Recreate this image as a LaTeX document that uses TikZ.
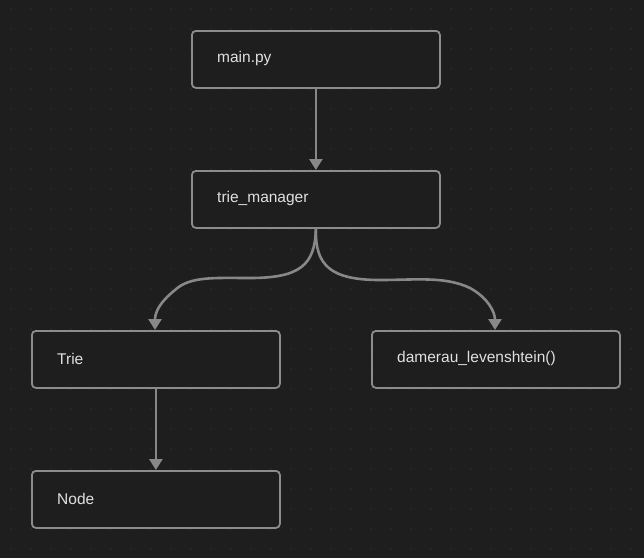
\documentclass[tikz,border=0pt]{standalone}
\usepackage{fontspec}
\setmainfont{Liberation Sans}
\usetikzlibrary{arrows.meta}
\definecolor{bg}{HTML}{1E1E1E}
\definecolor{dotc}{HTML}{2C2C2C}
\definecolor{edgec}{HTML}{888888}
\definecolor{boxline}{HTML}{8C8C8C}
\definecolor{txt}{HTML}{E0E0E0}
\tikzset{
  box/.style={draw=boxline, line width=1.8pt, fill=bg, rounded corners=4pt,
    minimum width=248pt, minimum height=57pt, anchor=north west, inner sep=0pt},
  lbl/.style={text=txt, font=\fontsize{15.5}{18}\selectfont, anchor=west, inner sep=0pt},
  conn/.style={draw=edgec, line width=2.6pt, -{Triangle[width=13pt,length=11pt]}},
}
\begin{document}
\begin{tikzpicture}[x=1pt,y=-1pt]
\fill[bg] (0,0) rectangle (644,558);
\useasboundingbox (0,0) rectangle (644,558);
\foreach \i in {0,...,31}{\foreach \j in {0,...,27}{
  \fill[dotc] (11+20*\i,9+20*\j) circle (1pt);}}
\node[box] (main) at (191,30) {};
\node[lbl] at (217,58.5) {main.py};
\node[box] (tm) at (191,170) {};
\node[lbl] at (217,198.5) {trie\_manager};
\node[box] (trie) at (31,330) {};
\node[lbl] at (57,358.5) {Trie};
\node[box] (dl) at (371,330) {};
\node[lbl] at (397,358.5) {damerau\_levenshtein()};
\node[box] (node) at (31,470) {};
\node[lbl] at (57,498.5) {Node};
\draw[conn] (main.south) -- (tm.north);
\draw[conn] (trie.south) -- (node.north);
\draw[conn] (tm.south) .. controls (315,265) and (300,278) .. (250,278)
  .. controls (215,278) and (190,276) .. (175,290)
  .. controls (160,302) and (155,312) .. (trie.north -| 155,0);
\draw[conn] (tm.south) .. controls (315,265) and (330,280) .. (380,280)
  .. controls (415,280) and (445,276) .. (470,288)
  .. controls (488,298) and (495,312) .. (dl.north -| 495,0);
\end{tikzpicture}
\end{document}
